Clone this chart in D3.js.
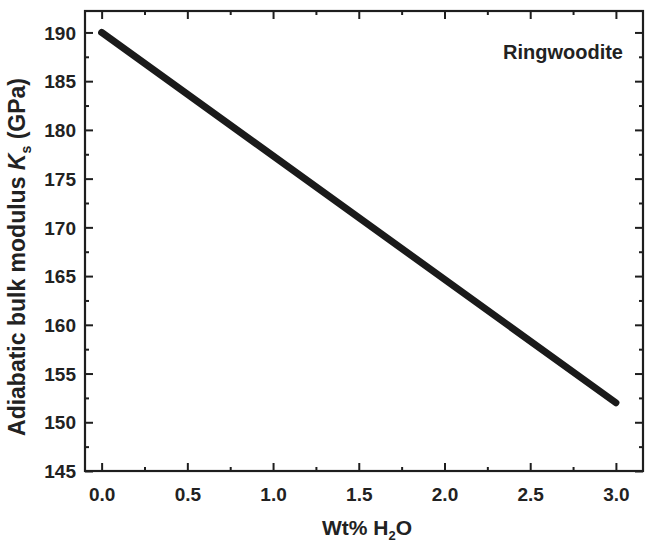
<!DOCTYPE html>
<html>
<head>
<meta charset="utf-8">
<script src="https://cdn.jsdelivr.net/npm/d3@7"></script>
<style>
  body { margin: 0; background: #fff; }
  text { font-family: "Liberation Sans", Arial, sans-serif; fill: #222; font-weight: bold; }
</style>
</head>
<body>
<svg id="svg_ks" width="648" height="545"></svg>
<script>
// data
const waterContent = [0, 3];
const bulkModulus = [190, 152];
const xTicks = [0, 0.5, 1, 1.5, 2, 2.5, 3];
const xMinorTicks = [0.25, 0.75, 1.25, 1.75, 2.25, 2.75];
const yTicks = [145, 150, 155, 160, 165, 170, 175, 180, 185, 190];
const yMinorTicks = [147.5, 152.5, 157.5, 162.5, 167.5, 172.5, 177.5, 182.5, 187.5];

const width = 648;
const height = 545;
const margin = { top: 11, right: 5, bottom: 74, left: 85 };
const plotW = width - margin.left - margin.right;
const plotH = height - margin.top - margin.bottom;

const xscale = d3.scaleLinear()
  .domain([-0.097, 3.158])
  .range([margin.left, margin.left + plotW]);

const yscale = d3.scaleLinear()
  .domain([145, 192.2])
  .range([margin.top + plotH, margin.top]);

const svg = d3.select('#svg_ks');
const ink = '#1e1e1e';

// ticks point inward on all four sides
function addAxis(axis, tx, ty) {
  const g = svg.append('g')
    .attr('transform', `translate(${tx}, ${ty})`)
    .call(axis);
  g.select('.domain').remove();
  g.selectAll('line').attr('stroke', ink).attr('stroke-width', 2);
  return g;
}

const bottom = margin.top + plotH;
const right = margin.left + plotW;

const xb = addAxis(d3.axisBottom(xscale).tickValues(xTicks).tickSizeInner(-8).tickSizeOuter(0)
  .tickPadding(17).tickFormat(d3.format('.1f')), 0, bottom);
xb.selectAll('text').attr('font-size', 19).attr('fill', ink);
addAxis(d3.axisBottom(xscale).tickValues(xMinorTicks).tickSize(-4).tickFormat(''), 0, bottom);
addAxis(d3.axisTop(xscale).tickValues(xTicks).tickSize(-8).tickFormat(''), 0, margin.top);
addAxis(d3.axisTop(xscale).tickValues(xMinorTicks).tickSize(-4).tickFormat(''), 0, margin.top);

const yl = addAxis(d3.axisLeft(yscale).tickValues(yTicks).tickSizeInner(-8).tickSizeOuter(0)
  .tickPadding(9), margin.left, 0);
yl.selectAll('text').attr('font-size', 19).attr('fill', ink).attr('dy', '0.35em');
addAxis(d3.axisLeft(yscale).tickValues(yMinorTicks).tickSize(-4).tickFormat(''), margin.left, 0);
addAxis(d3.axisRight(yscale).tickValues(yTicks).tickSize(-8).tickFormat(''), right, 0);
addAxis(d3.axisRight(yscale).tickValues(yMinorTicks).tickSize(-4).tickFormat(''), right, 0);

// frame
svg.append('rect')
  .attr('x', margin.left)
  .attr('y', margin.top)
  .attr('width', plotW)
  .attr('height', plotH)
  .attr('fill', 'none')
  .attr('stroke', ink)
  .attr('stroke-width', 2.2);

// the line
const points = waterContent.map((w, i) => [w, bulkModulus[i]]);
svg.append('path')
  .datum(points)
  .attr('fill', 'none')
  .attr('stroke', '#1a1a1a')
  .attr('stroke-width', 7)
  .attr('stroke-linecap', 'round')
  .attr('d', d3.line().x((d) => xscale(d[0])).y((d) => yscale(d[1])));

// labels
svg.append('text')
  .attr('x', 623)
  .attr('y', 59)
  .attr('text-anchor', 'end')
  .attr('font-size', 20)
  .text('Ringwoodite');

const xTitle = svg.append('text')
  .attr('x', 367)
  .attr('y', 535)
  .attr('text-anchor', 'middle')
  .attr('font-size', 21);
xTitle.append('tspan').text('Wt% H');
xTitle.append('tspan').attr('font-size', 13).attr('dy', 5).text('2');
xTitle.append('tspan').attr('dy', -5).text('O');

const yTitle = svg.append('text')
  .attr('transform', 'translate(25, 257) rotate(-90)')
  .attr('text-anchor', 'middle')
  .attr('font-size', 23);
yTitle.append('tspan').text('Adiabatic bulk modulus ');
yTitle.append('tspan').attr('font-style', 'italic').text('K');
yTitle.append('tspan').attr('font-size', 14).attr('dy', 6).text('s');
yTitle.append('tspan').attr('dy', -6).text(' (GPa)');
</script>
</body>
</html>
